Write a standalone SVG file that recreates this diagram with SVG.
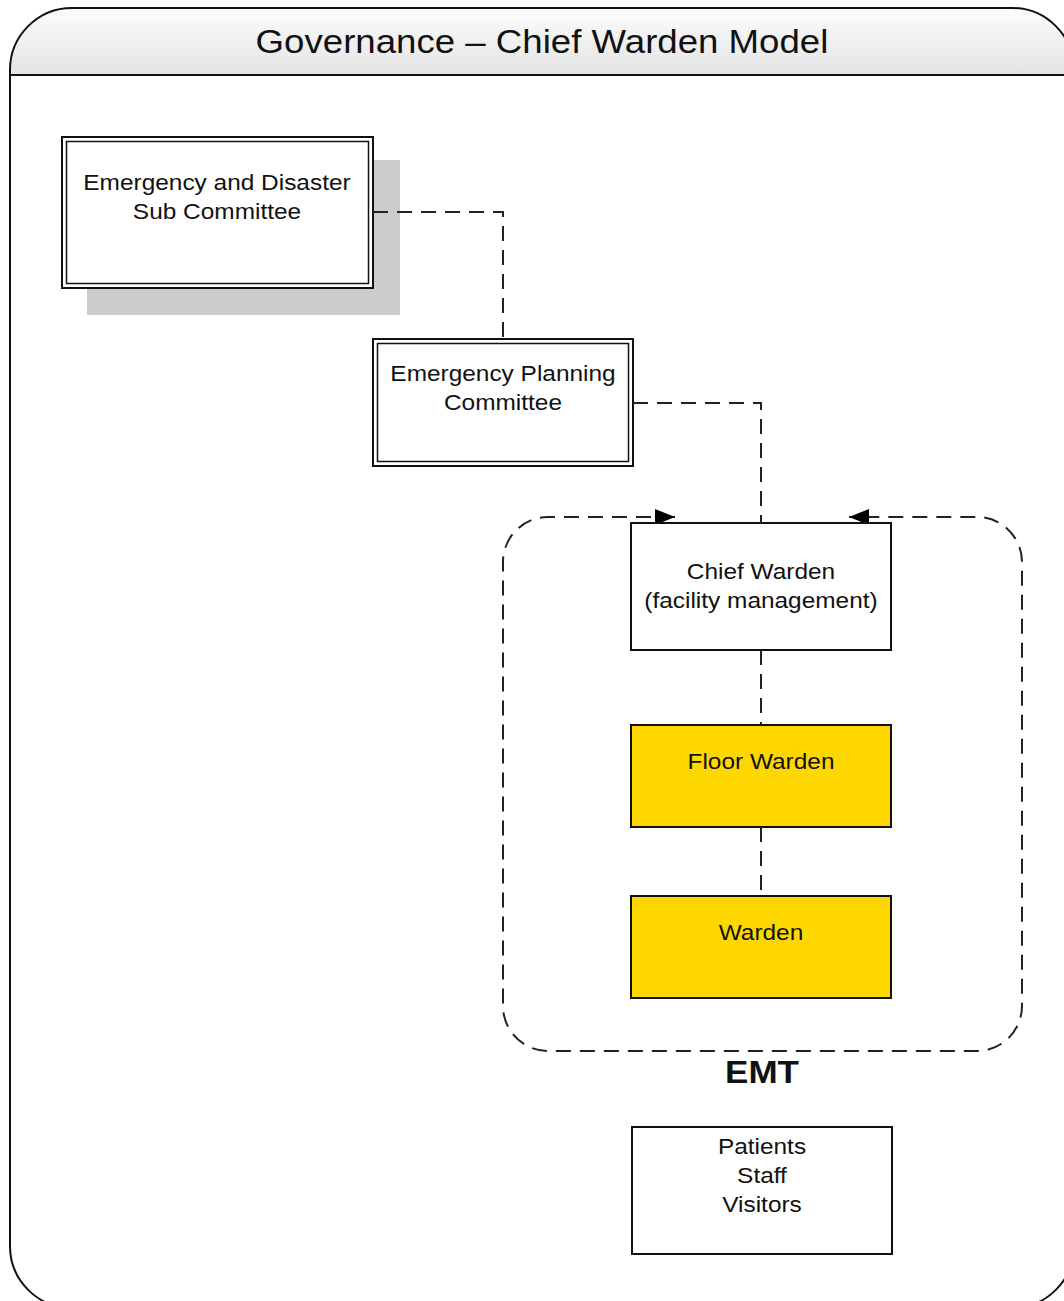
<svg xmlns="http://www.w3.org/2000/svg" width="1064" height="1301" viewBox="0 0 1064 1301">
  <defs>
    <linearGradient id="hdr" x1="0" y1="0" x2="0" y2="1">
      <stop offset="0" stop-color="#ffffff"/>
      <stop offset="1" stop-color="#e4e4e4"/>
    </linearGradient>
    <clipPath id="frameClip">
      <rect x="10" y="8" width="1064" height="1300" rx="62" ry="62"/>
    </clipPath>
    <marker id="arr" viewBox="0 0 20 16" refX="20" refY="8" markerWidth="20" markerHeight="16" markerUnits="userSpaceOnUse" orient="auto">
      <path d="M0,0 L20,8 L0,16 Z" fill="#000"/>
    </marker>
    <marker id="arrStart" viewBox="0 0 20 16" refX="20" refY="8" markerWidth="20" markerHeight="16" markerUnits="userSpaceOnUse" orient="auto-start-reverse">
      <path d="M0,0 L20,8 L0,16 Z" fill="#000"/>
    </marker>
  </defs>
  <style>
    text { font-family: "Liberation Sans", Arial, sans-serif; fill: #111; text-anchor: middle; }
    .lbl { font-size: 22px; }
    .title { font-size: 33px; }
    .emt { font-size: 31px; font-weight: bold; }
    .box { fill: #ffffff; stroke: #111; stroke-width: 2; }
    .inner { fill: none; stroke: #111; stroke-width: 1.5; }
    .gold { fill: #ffd700; stroke: #111; stroke-width: 2; }
    .dash { fill: none; stroke: #222; stroke-width: 2; stroke-dasharray: 15 9; }
  </style>

  <!-- outer frame with header band -->
  <g id="frame">
    <rect x="10" y="8" width="1064" height="1300" rx="62" ry="62" fill="#ffffff"/>
    <rect x="0" y="0" width="1064" height="75" fill="url(#hdr)" clip-path="url(#frameClip)"/>
    <line x1="10" y1="75" x2="1064" y2="75" stroke="#111" stroke-width="2"/>
    <rect x="10" y="8" width="1064" height="1300" rx="62" ry="62" fill="none" stroke="#111" stroke-width="2"/>
    <text class="title" x="542" y="53" transform="matrix(1.11,0,0,1,-59.62,0)">Governance – Chief Warden Model</text>
  </g>

  <!-- EMT grouping boundary -->
  <g id="emt-group">
    <path class="dash" d="M675,517 H548 A45,45 0 0 0 503,562 V1006 A45,45 0 0 0 548,1051 H977 A45,45 0 0 0 1022,1006 V562 A45,45 0 0 0 977,517 H849" marker-start="url(#arrStart)" marker-end="url(#arr)"/>
    <text class="emt" x="762" y="1083" transform="matrix(1.13,0,0,1,-99.06,0)">EMT</text>
  </g>

  <g id="node-sub-committee">
    <rect x="87" y="160" width="313" height="155" fill="#cccccc"/>
    <rect class="box" x="62" y="137" width="311" height="151"/>
    <rect class="inner" x="66.5" y="141.5" width="302" height="142"/>
    <g transform="matrix(1.11,0,0,1,-23.87,0)">
      <text class="lbl" x="217" y="190">Emergency and Disaster</text>
      <text class="lbl" x="217" y="219">Sub Committee</text>
    </g>
  </g>

  <g id="node-planning-committee">
    <rect class="box" x="373" y="339" width="260" height="127"/>
    <rect class="inner" x="377.5" y="343.5" width="251" height="118"/>
    <g transform="matrix(1.11,0,0,1,-55.33,0)">
      <text class="lbl" x="503" y="381">Emergency Planning</text>
      <text class="lbl" x="503" y="410">Committee</text>
    </g>
  </g>

  <g id="node-chief-warden">
    <rect class="box" x="631" y="523" width="260" height="127"/>
    <g transform="matrix(1.11,0,0,1,-83.71,0)">
      <text class="lbl" x="761" y="579">Chief Warden</text>
      <text class="lbl" x="761" y="608">(facility management)</text>
    </g>
  </g>

  <g id="node-floor-warden">
    <rect class="gold" x="631" y="725" width="260" height="102"/>
    <text class="lbl" x="761" y="769" transform="matrix(1.11,0,0,1,-83.71,0)">Floor Warden</text>
  </g>

  <g id="node-warden">
    <rect class="gold" x="631" y="896" width="260" height="102"/>
    <text class="lbl" x="761" y="940" transform="matrix(1.11,0,0,1,-83.71,0)">Warden</text>
  </g>

  <g id="node-occupants">
    <rect class="box" x="632" y="1127" width="260" height="127"/>
    <g transform="matrix(1.11,0,0,1,-83.82,0)">
      <text class="lbl" x="762" y="1154">Patients</text>
      <text class="lbl" x="762" y="1183">Staff</text>
      <text class="lbl" x="762" y="1212">Visitors</text>
    </g>
  </g>

  <!-- connectors -->
  <g id="connectors">
    <path class="dash" d="M373,212 H503 V339"/>
    <path class="dash" d="M633,403 H761 V523"/>
    <path class="dash" d="M761,650 V725"/>
    <path class="dash" d="M761,827 V896"/>
  </g>
</svg>
